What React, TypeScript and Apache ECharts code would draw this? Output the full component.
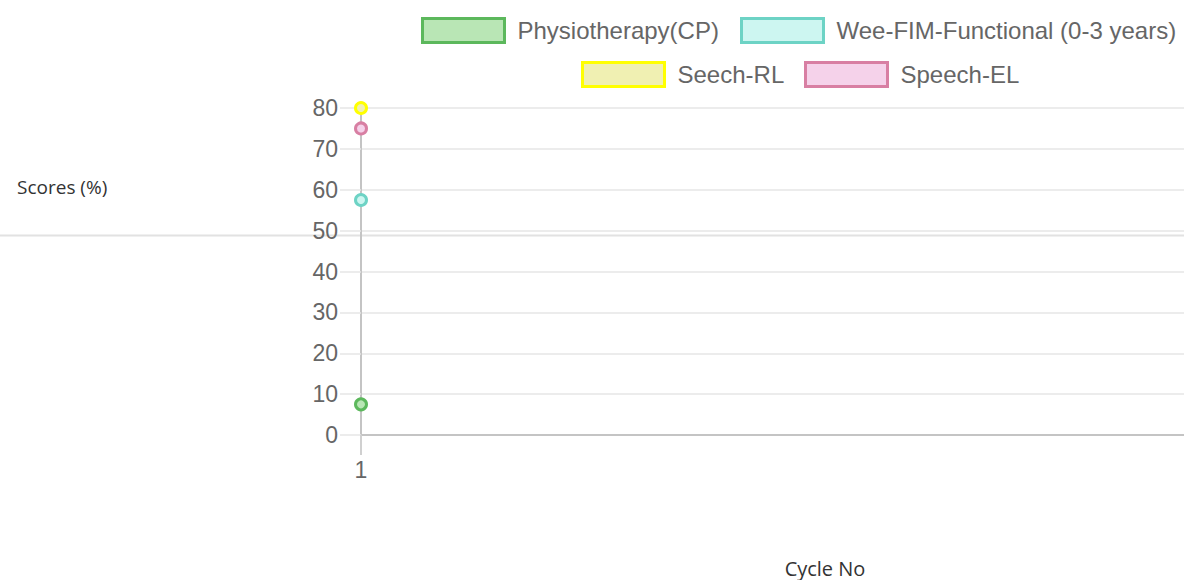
import React, { useEffect, useRef } from "react";
import * as echarts from "echarts";

const categories = ["1"];
const seriesNames = ["Physiotherapy(CP)", "Wee-FIM-Functional (0-3 years)", "Seech-RL", "Speech-EL"];
const physioValues = [7.5];
const weeFimValues = [57.5];
const seechRlValues = [80];
const speechElValues = [75];
const yTicks = [0, 10, 20, 30, 40, 50, 60, 70, 80];
const borderColors = ["#5cb85c", "#6dd3c5", "#ffff00", "#d87fa3"];
const fillColors = ["#b9e6b5", "#cdf6f1", "#f0f0b2", "#f5d2ea"];

const legendPos = [
  { left: 421, top: 17 },
  { left: 740, top: 17 },
  { left: 581, top: 61 },
  { left: 804, top: 61 },
];

export default function App() {
  const ref = useRef<HTMLDivElement>(null);
  useEffect(() => {
    if (!ref.current) return;
    const chart = echarts.init(ref.current, null, { renderer: "svg" });
    const allValues = [physioValues, weeFimValues, seechRlValues, speechElValues];
    const catNums = categories.map((c) => Number(c));
    const series = seriesNames.map((name, i) => ({
      name,
      type: "line",
      data: categories.map((c, j) => [Number(c), allValues[i][j]]),
      symbol: "circle",
      symbolSize: 11,
      showSymbol: true,
      lineStyle: { color: borderColors[i], width: 2 },
      itemStyle: { color: fillColors[i], borderColor: borderColors[i], borderWidth: 3 },
      z: 3 + i,
    }));
    const legends = seriesNames.map((name, i) => ({
      show: true,
      left: legendPos[i].left,
      top: legendPos[i].top,
      icon: "rect",
      itemWidth: 82,
      itemHeight: 24,
      padding: 0,
      selectedMode: false,
      textStyle: {
        fontFamily: "Liberation Sans, Arial, sans-serif",
        fontSize: 24,
        color: "#666",
        padding: [0, 0, 0, 8],
      },
      data: [
        {
          name,
          icon: "rect",
          itemStyle: { color: fillColors[i], borderColor: borderColors[i], borderWidth: 3 },
        },
      ],
    }));
    chart.setOption({
      animation: false,
      legend: legends,
      grid: { left: 361, top: 108, bottom: 145, right: 0, containLabel: false },
      xAxis: {
        type: "value",
        min: 1,
        max: 2,
        axisLine: { show: true, onZero: false, lineStyle: { color: "#c4c4c4", width: 2 } },
        axisTick: {
          show: true,
          length: 20,
          customValues: catNums,
          lineStyle: { color: "#d0d0d0", width: 2 },
        },
        axisLabel: {
          show: true,
          margin: 23,
          customValues: catNums,
          fontFamily: "Liberation Sans, Arial, sans-serif",
          fontSize: 23,
          color: "#666",
        },
        splitLine: { show: false },
      },
      yAxis: {
        type: "value",
        min: yTicks[0],
        max: yTicks[yTicks.length - 1],
        interval: 10,
        axisLine: { show: true, lineStyle: { color: "#c4c4c4", width: 2 } },
        axisTick: { show: true, length: 21, lineStyle: { color: "#e6e6e6", width: 1.5 } },
        axisLabel: {
          margin: 23,
          fontFamily: "Liberation Sans, Arial, sans-serif",
          fontSize: 23,
          color: "#666",
        },
        splitLine: { show: true, lineStyle: { color: "#e6e6e6", width: 1.5 } },
      },
      graphic: [
        {
          type: "line",
          shape: { x1: 0, y1: 235.5, x2: 1184, y2: 235.5 },
          style: { stroke: "#e2e2e2", lineWidth: 2 },
          z: 0,
        },
        {
          type: "text",
          x: 17,
          y: 187,
          style: {
            text: "Scores (%)",
            font: "19px 'Open Sans', 'Noto Sans', sans-serif",
            fill: "#333",
            textVerticalAlign: "middle",
            lineHeight: 20,
          },
        },
        {
          type: "text",
          x: 825,
          y: 568,
          style: {
            text: "Cycle No",
            font: "20px 'Open Sans', 'Noto Sans', sans-serif",
            fill: "#333",
            textAlign: "center",
            textVerticalAlign: "middle",
            lineHeight: 20,
          },
        },
      ],
      series,
    });
    return () => chart.dispose();
  }, []);
  return (
    <div
      ref={ref}
      style={{ position: "fixed", left: 0, top: 0, width: 1184, height: 580, background: "#fff" }}
    />
  );
}
